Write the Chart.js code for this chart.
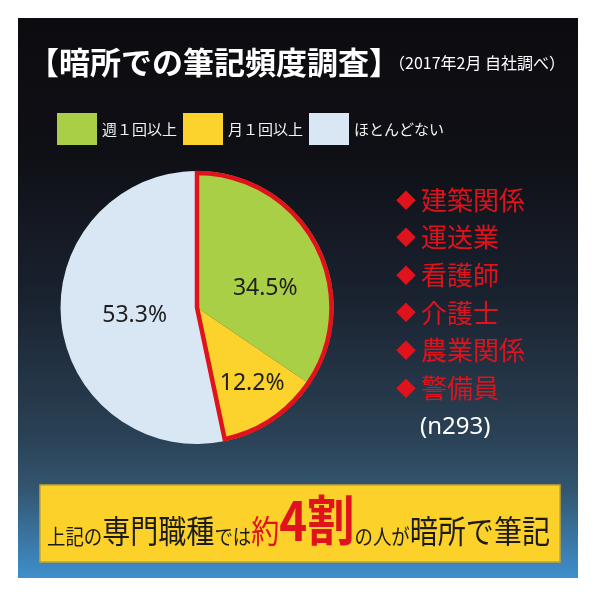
<!DOCTYPE html>
<html lang="ja">
<head>
<meta charset="utf-8">
<script src="https://cdn.jsdelivr.net/npm/chart.js@4.4.1/dist/chart.umd.min.js"></script>
<style>
html, body { margin: 0; padding: 0; background: #fff; }
canvas { display: block; }
</style>
</head>
<body>
<canvas id="survey" width="598" height="598"></canvas>
<script>
// 暗所での筆記頻度調査（2017年2月 自社調べ）
const labels = ["週１回以上", "月１回以上", "ほとんどない"];
const shares = [34.5, 12.2, 53.3];
const sliceColors = ["#a9cf46", "#fcd22c", "#d9e7f5"];
const highlighted = [0, 1]; // slices inside the red outline
const jobs = ["建築関係", "運送業", "看護師", "介護士", "農業関係", "警備員"];
const sampleNote = "(n293)";
const title = "【暗所での筆記頻度調査】";
const subtitle = "（2017年2月 自社調べ）";
// banner text pieces: [text, style]
const bannerParts = [
  ["上記の", "s"], ["専門職種", "l"], ["では", "s"], ["約", "lr"],
  ["4割", "xr"], ["の人が", "s"], ["暗所で筆記", "l"]
];

const JP = '"Noto Sans CJK JP", "Noto Sans", sans-serif';
const RED = "#e0121b";

const poster = {
  id: "poster",
  beforeDraw(chart) {
    const ctx = chart.ctx;
    ctx.save();
    ctx.fillStyle = "#fff";
    ctx.fillRect(0, 0, chart.width, chart.height);

    // dark panel
    const g = ctx.createLinearGradient(0, 18, 0, 578);
    g.addColorStop(0, "#0c0b10");
    g.addColorStop(0.25, "#0f1016");
    g.addColorStop(0.5, "#1a2230");
    g.addColorStop(0.75, "#2a4256");
    g.addColorStop(0.84, "#33556f");
    g.addColorStop(1, "#3f8fcc");
    ctx.fillStyle = g;
    ctx.fillRect(18, 18, 560, 560);

    // title
    ctx.fillStyle = "#fff";
    ctx.textBaseline = "middle";
    ctx.textAlign = "left";
    ctx.font = "bold 31px " + JP;
    ctx.fillText(title, 28, 62);
    ctx.font = "16px " + JP;
    ctx.fillText(subtitle, 389, 63);

    // legend
    let x = 57;
    ctx.font = "15px " + JP;
    labels.forEach((lab, i) => {
      ctx.fillStyle = sliceColors[i];
      ctx.fillRect(x, 113, 40, 32);
      ctx.fillStyle = "#f2f2f2";
      ctx.fillText(lab, x + 45, 129);
      x += 45 + ctx.measureText(lab).width + 6;
    });

    // job list
    ctx.fillStyle = RED;
    jobs.forEach((job, i) => {
      const yy = 200 + i * 37.6;
      ctx.font = "20px " + JP;
      ctx.fillText("◆", 396, yy);
      ctx.font = "26px " + JP;
      ctx.fillText(job, 421, yy);
    });
    ctx.fillStyle = "#fff";
    ctx.font = '24px "Noto Sans", sans-serif';
    ctx.fillText(sampleNote, 420, 427);

    // banner
    ctx.fillStyle = "#fcd22a";
    ctx.fillRect(40, 485, 520, 77);
    ctx.strokeStyle = "#c4a436";
    ctx.lineWidth = 1.5;
    ctx.strokeRect(40, 485, 520, 77);

    const fonts = {
      s: ["21px " + JP, "#1b1b1b"],
      l: ["32px " + JP, "#1b1b1b"],
      lr: ["32px " + JP, RED],
      xr: ["bold 54px " + JP, RED]
    };
    let total = 0;
    bannerParts.forEach(([t, s]) => {
      ctx.font = fonts[s][0];
      total += ctx.measureText(t).width;
    });
    const sx = 503 / total;
    ctx.translate(47, 547);
    ctx.scale(sx, 1);
    ctx.textBaseline = "ideographic";
    let cx = 0;
    bannerParts.forEach(([t, s]) => {
      ctx.font = fonts[s][0];
      ctx.fillStyle = fonts[s][1];
      ctx.fillText(t, cx, 0);
      cx += ctx.measureText(t).width;
    });
    ctx.restore();
  },
  afterDatasetsDraw(chart) {
    const ctx = chart.ctx;
    const arcs = chart.getDatasetMeta(0).data;
    ctx.save();

    // red outline round the highlighted slices
    const first = arcs[highlighted[0]];
    const last = arcs[highlighted[highlighted.length - 1]];
    const { x, y, outerRadius } = first.getProps(["x", "y", "outerRadius"], true);
    const r = outerRadius - 2;
    ctx.beginPath();
    ctx.moveTo(x, y);
    ctx.lineTo(x + r * Math.cos(first.startAngle), y + r * Math.sin(first.startAngle));
    ctx.arc(x, y, r, first.startAngle, last.endAngle);
    ctx.closePath();
    ctx.strokeStyle = RED;
    ctx.lineWidth = 4.5;
    ctx.lineJoin = "miter";
    ctx.stroke();

    // percentage labels
    const labelRadius = [0.52, 0.69, 0.46];
    const labelShift = [12, -2, -1];
    ctx.font = '23px "Noto Sans", sans-serif';
    ctx.fillStyle = "#1e1e1e";
    ctx.textAlign = "center";
    ctx.textBaseline = "middle";
    arcs.forEach((arc, i) => {
      const mid = (arc.startAngle + arc.endAngle) / 2 + labelShift[i] * Math.PI / 180;
      const rr = arc.outerRadius * labelRadius[i];
      ctx.fillText(shares[i].toFixed(1) + "%", arc.x + rr * Math.cos(mid), arc.y + rr * Math.sin(mid));
    });
    ctx.restore();
  }
};

const context = document.getElementById("survey").getContext("2d");
const pie = new Chart(context, {
  type: "pie",
  data: {
    labels: labels,
    datasets: [{
      data: shares,
      backgroundColor: sliceColors,
      borderWidth: 0
    }]
  },
  options: {
    responsive: false,
    animation: false,
    devicePixelRatio: 1,
    radius: 136.5,
    layout: { padding: { left: 60, right: 264, top: 171, bottom: 154 } },
    plugins: {
      legend: { display: false },
      tooltip: { enabled: false }
    }
  },
  plugins: [poster]
});
</script>
</body>
</html>
